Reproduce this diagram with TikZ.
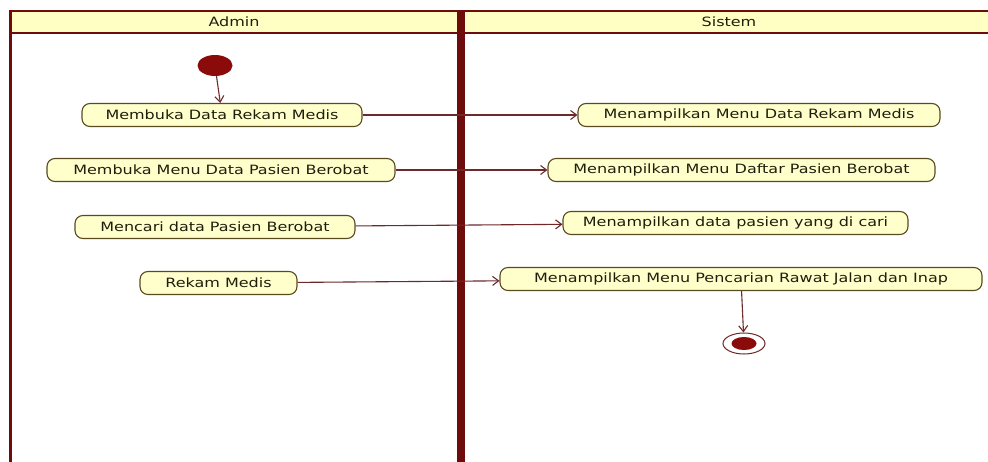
\documentclass[tikz,border=0pt]{standalone}
\usepackage{fontspec}
\usetikzlibrary{shapes.geometric,arrows.meta}
\newfontfamily\umlfont[FakeStretch=1.25]{DejaVu Sans}
\definecolor{frame}{HTML}{6E0B0B}
\definecolor{headfill}{HTML}{FFFFC4}
\definecolor{actfill}{HTML}{FFFFCC}
\definecolor{actline}{HTML}{5A4A20}
\definecolor{txt}{HTML}{1E1E0C}
\definecolor{conn}{HTML}{6E2A2A}
\definecolor{dot}{HTML}{8B0A0A}
\begin{document}
\begin{tikzpicture}[x=1pt,y=-1pt,
  action/.style={draw=actline,fill=actfill,line width=1.1pt,rounded corners=8pt,
    minimum height=23pt,inner sep=0pt,text=txt,
    font=\umlfont\fontsize{12.8}{14}\selectfont},
  lanetitle/.style={text=txt,font=\umlfont\fontsize{12.8}{14}\selectfont,inner sep=0pt},
  flow/.style={draw=conn,line width=1.1pt,-{Straight Barb[length=6pt,width=9pt]}}]
\useasboundingbox (0,0) rectangle (988,461);
\fill[white] (0,0) rectangle (988,461);
% header
\fill[headfill] (10,11) rectangle (996,33);
\draw[frame,line width=2pt] (9,11) -- (996,11);
\draw[frame,line width=2pt] (9,33) -- (996,33);
\draw[frame,line width=3pt] (10.5,10) -- (10.5,470);
\draw[frame,line width=7.5pt] (461,10) -- (461,470);
\draw[frame,line width=2pt] (996,10) -- (996,470);
\node[lanetitle] (admin) at (234,22) {Admin};
\node[lanetitle] (sistem) at (729,22) {Sistem};
% start / end
\node[ellipse,fill=dot,minimum width=35pt,minimum height=21pt,inner sep=0pt] (start) at (215,65.5) {};
\node[ellipse,draw=conn,fill=white,line width=1pt,minimum width=42pt,minimum height=21pt,inner sep=0pt] (end) at (744,343.5) {};
\node[ellipse,fill=dot,minimum width=25pt,minimum height=13pt,inner sep=0pt] (endin) at (744,343.5) {};
% actions
\node[action,minimum width=280pt] (a1) at (222,115) {Membuka Data Rekam Medis};
\node[action,minimum width=362pt] (b1) at (759,115) {Menampilkan Menu Data Rekam Medis};
\node[action,minimum width=348pt] (a2) at (221,170) {Membuka Menu Data Pasien Berobat};
\node[action,minimum width=387pt] (b2) at (741.5,170) {Menampilkan Menu Daftar Pasien Berobat};
\node[action,minimum width=280pt] (a3) at (215,227) {Mencari data Pasien Berobat};
\node[action,minimum width=345pt] (b3) at (735.5,223) {Menampilkan data pasien yang di cari};
\node[action,minimum width=157pt] (a4) at (218.5,283) {Rekam Medis};
\node[action,minimum width=482pt] (b4) at (741,279) {Menampilkan Menu Pencarian Rawat Jalan dan Inap};
% flows
\draw[flow] (start) -- (a1);
\draw[flow] (a1) -- (b1);
\draw[flow] (a2) -- (b2);
\draw[flow] (a3) -- (b3);
\draw[flow] (a4) -- (b4);
\draw[flow] (b4) -- (end);
\end{tikzpicture}
\end{document}
